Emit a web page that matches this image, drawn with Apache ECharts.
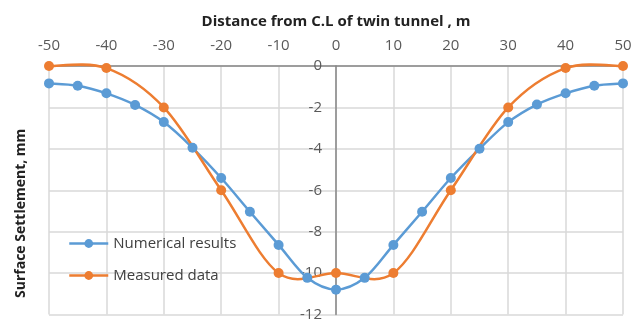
<!DOCTYPE html>
<html>
<head>
<meta charset="utf-8">
<script src="https://cdn.jsdelivr.net/npm/echarts@6/dist/echarts.min.js"></script>
<style>
  html, body { margin: 0; padding: 0; background: #fff; }
  #chart { width: 643px; height: 322px; }
</style>
</head>
<body>
<div id="chart"></div>
<script>
// distances from tunnel centre line (m)
const numX = [-50, -45, -40, -35, -30, -25, -20, -15, -10, -5, 0, 5, 10, 15, 20, 25, 30, 35, 40, 45, 50];
const numY = [-0.84, -0.95, -1.32, -1.88, -2.71, -3.95, -5.41, -7.04, -8.64, -10.23, -10.8, -10.23, -8.64, -7.04, -5.41, -4.0, -2.71, -1.86, -1.32, -0.95, -0.84];
const measX = [-50, -40, -30, -20, -10, 0, 10, 20, 30, 40, 50];
const measY = [0, -0.1, -2, -6, -10, -10, -10, -6, -2, -0.1, 0];

const blue = '#5B9BD5';
const orange = '#ED7D31';
const font = 'Open Sans';

// plot box; the y axis sits at x = 0, half way across
const gridLeft = 49, gridRight = 20;
const plotW = 643 - gridLeft - gridRight;

// Excel-style smoothed line: one bezier segment per point pair (catmull-rom)
function smoothSegment(xs, ys, color) {
  return function (params, api) {
    const i = params.dataIndex;
    const n = xs.length;
    if (i >= n - 1) return null;
    const p = k => {
      k = Math.max(0, Math.min(n - 1, k));
      return api.coord([xs[k], ys[k]]);
    };
    const p0 = p(i - 1), p1 = p(i), p2 = p(i + 1), p3 = p(i + 2);
    return {
      type: 'bezierCurve',
      shape: {
        x1: p1[0], y1: p1[1],
        x2: p2[0], y2: p2[1],
        cpx1: p1[0] + (p2[0] - p0[0]) / 6,
        cpy1: p1[1] + (p2[1] - p0[1]) / 6,
        cpx2: p2[0] - (p3[0] - p1[0]) / 6,
        cpy2: p2[1] - (p3[1] - p1[1]) / 6
      },
      style: { stroke: color, fill: null, lineWidth: 2.5 }
    };
  };
}

const chart = echarts.init(document.getElementById('chart'));

chart.setOption({
  animation: false,
  textStyle: { fontFamily: font },
  grid: { left: gridLeft, right: gridRight, top: 66, bottom: 6, containLabel: false },
  legend: {
    orient: 'vertical',
    left: 63,
    top: 231,
    itemWidth: 39,
    itemHeight: 11,
    itemGap: 17,
    textStyle: { fontSize: 15, color: '#404040', fontFamily: font },
    data: [
      { name: 'Numerical results', lineStyle: { color: blue, width: 2.5, opacity: 1 } },
      { name: 'Measured data', lineStyle: { color: orange, width: 2.5, opacity: 1 } }
    ]
  },
  graphic: [{
    type: 'text',
    x: 21,
    y: 298,
    rotation: Math.PI / 2,
    style: {
      text: 'Surface Settlement, mm',
      font: 'bold 14px "Open Sans"',
      fill: '#222',
      align: 'left',
      verticalAlign: 'middle'
    }
  }],
  xAxis: {
    type: 'value',
    position: 'top',
    min: -50,
    max: 50,
    interval: 10,
    name: 'Distance from C.L of twin tunnel , m',
    nameLocation: 'middle',
    nameGap: 37,
    nameTextStyle: { fontSize: 15, fontWeight: 'bold', color: '#222' },
    axisLine: { onZero: false, lineStyle: { color: '#868686', width: 1.5 } },
    axisTick: { show: false },
    axisLabel: { fontSize: 15, color: '#595959', margin: 13 },
    splitLine: { show: true, lineStyle: { color: '#D9D9D9', width: 1.5 } }
  },
  yAxis: {
    type: 'value',
    position: 'left',
    offset: -plotW / 2,
    min: -12,
    max: 0,
    interval: 2,
    axisLine: { show: true, onZero: false, lineStyle: { color: '#868686', width: 1.5 } },
    axisTick: { show: false },
    axisLabel: { fontSize: 15, color: '#595959', margin: 14 },
    splitLine: { show: true, lineStyle: { color: '#D9D9D9', width: 1.5 } }
  },
  series: [
    {
      name: 'numCurve',
      type: 'custom',
      silent: true,
      renderItem: smoothSegment(numX, numY, blue),
      data: numX.map((x, i) => [x, numY[i]])
    },
    {
      name: 'Numerical results',
      type: 'line',
      data: numX.map((x, i) => [x, numY[i]]),
      symbol: 'circle',
      symbolSize: 10,
      itemStyle: { color: blue },
      lineStyle: { color: blue, width: 2.5, opacity: 0 }
    },
    {
      name: 'measCurve',
      type: 'custom',
      silent: true,
      renderItem: smoothSegment(measX, measY, orange),
      data: measX.map((x, i) => [x, measY[i]])
    },
    {
      name: 'Measured data',
      type: 'line',
      data: measX.map((x, i) => [x, measY[i]]),
      symbol: 'circle',
      symbolSize: 10,
      itemStyle: { color: orange },
      lineStyle: { color: orange, width: 2.5, opacity: 0 }
    }
  ]
});
</script>
</body>
</html>
